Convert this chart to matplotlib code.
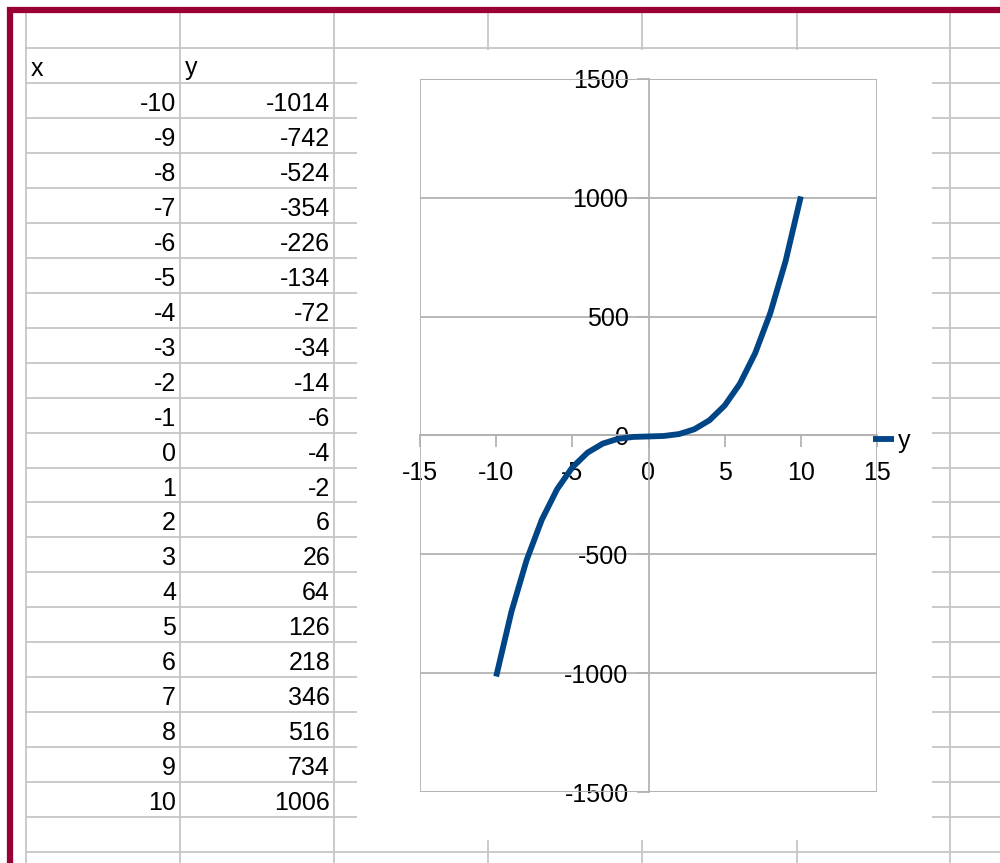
import numpy as np
import matplotlib.pyplot as plt
from matplotlib.patches import Rectangle

x_vals = [-10, -9, -8, -7, -6, -5, -4, -3, -2, -1, 0, 1, 2, 3, 4, 5, 6, 7, 8, 9, 10]
y_vals = [-1014, -742, -524, -354, -226, -134, -72, -34, -14, -6, -4,
          -2, 6, 26, 64, 126, 218, 346, 516, 734, 1006]
x_ticks = [-15, -10, -5, 0, 5, 10, 15]
y_ticks = [-1500, -1000, -500, 0, 500, 1000, 1500]

plt.rcParams['font.family'] = ['Liberation Sans Narrow', 'Liberation Sans', 'DejaVu Sans']
plt.rcParams['axes.unicode_minus'] = False

fs = 18
grid_c = '#c6c6c6'
axis_c = '#b3b3b3'
blue = '#004586'

fig = plt.figure(figsize=(10, 8.63), dpi=100)

# spreadsheet background in pixel coordinates
bg = fig.add_axes([0, 0, 1, 1])
bg.set_xlim(0, 1000)
bg.set_ylim(863, 0)
bg.axis('off')

cols = [26, 180, 334, 488, 642, 797, 950]
row_h = 34.96
rows = [48 + row_h * k for k in range(24)]
for c in cols:
    bg.plot([c, c], [13, 863], color=grid_c, lw=1.3, zorder=1)
for r in rows:
    bg.plot([26, 1000], [r, r], color=grid_c, lw=1.3, zorder=1)

# chart object covers the cells
bg.add_patch(Rectangle((357, 50), 932 - 357, 840 - 50, facecolor='white',
                       edgecolor='none', zorder=2))

# red selection border
bg.plot([10, 10], [7, 863], color='#990033', lw=4.5, zorder=3, solid_capstyle='butt')
bg.plot([7, 1000], [10, 10], color='#990033', lw=4.5, zorder=3, solid_capstyle='butt')

# table
bg.text(31, rows[0] + 27.5, 'x', fontsize=fs, ha='left', va='baseline', zorder=4)
bg.text(185, rows[0] + 27.5, 'y', fontsize=fs, ha='left', va='baseline', zorder=4)
for i, (xv, yv) in enumerate(zip(x_vals, y_vals)):
    base = rows[i + 1] + 28
    bg.text(176, base, str(xv), fontsize=fs, ha='right', va='baseline', zorder=4)
    bg.text(330, base, str(yv), fontsize=fs, ha='right', va='baseline', zorder=4)

# chart
ax = fig.add_axes([0.420, 1 - 792 / 863, 0.457, (792 - 79) / 863])
ax.patch.set_alpha(0)
ax.set_xlim(-15, 15)
ax.set_ylim(-1500, 1500)
ax.set_xticks(x_ticks)
ax.set_yticks(y_ticks)
for s in ['top', 'right']:
    ax.spines[s].set_visible(False)
ax.spines['left'].set_position(('data', 0))
ax.spines['bottom'].set_position(('data', 0))
for s in ['left', 'bottom']:
    ax.spines[s].set_color(axis_c)
    ax.spines[s].set_linewidth(1.3)
ax.add_patch(Rectangle((0, 0), 1, 1, transform=ax.transAxes, fill=False,
                       edgecolor=axis_c, lw=1.3, zorder=1))
ax.yaxis.grid(True, color=axis_c, lw=1.3)
ax.set_axisbelow(True)
ax.tick_params(axis='x', direction='out', length=8.6, width=1.3, color=axis_c,
               labelsize=fs, pad=10)
ax.tick_params(axis='y', direction='out', length=8.6, width=1.3, color=axis_c,
               labelsize=fs, pad=5.8)

ax.plot(x_vals, y_vals, color=blue, lw=4.2, label='y', solid_capstyle='butt',
        solid_joinstyle='round', zorder=3)

fig.legend(loc='center left', bbox_to_anchor=(0.873, 1 - 441 / 863), frameon=False,
           fontsize=fs, handlelength=0.84, handletextpad=0.15, borderpad=0,
           borderaxespad=0)

fig.savefig('out.png', dpi=100)
